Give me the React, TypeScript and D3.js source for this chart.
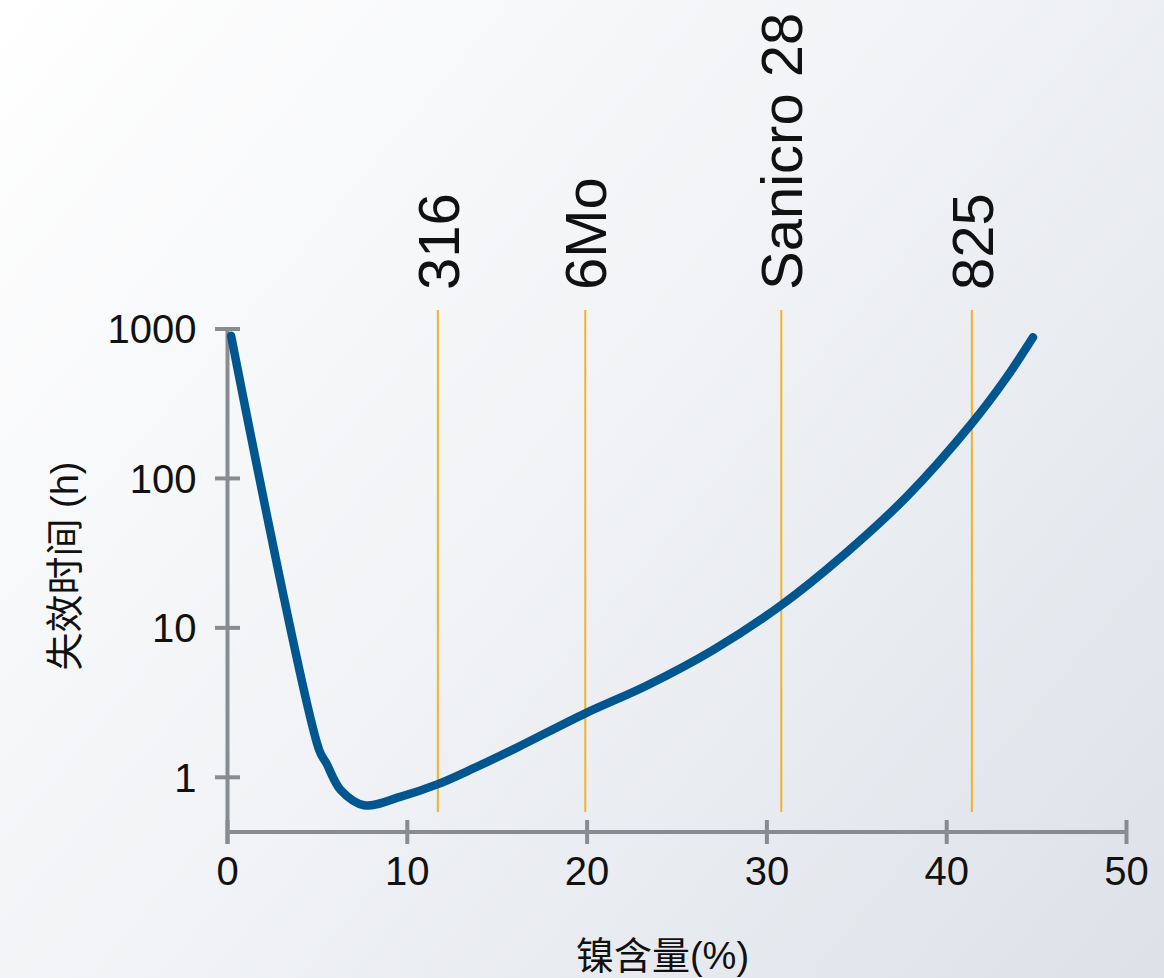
import React from "react";
import * as d3 from "d3";

const nickelPct = [0.2, 5.1, 5.5, 6.3, 7.6, 9.6, 11.7, 13.7, 16.1, 19.9, 23.3, 27.0, 30.8, 34.3, 37.8, 41.4, 43.3, 44.8];
const failureHours = [900, 1.52, 1.24, 0.82, 0.65, 0.74, 0.9, 1.15, 1.58, 2.68, 4.1, 7.1, 14.2, 31, 76, 234, 469, 881];

const alloyNames = ["316", "6Mo", "Sanicro 28", "825"];
const alloyNickel = [11.7, 19.9, 30.8, 41.4];

const xTicks = [0, 10, 20, 30, 40, 50];
const yTicks = [1, 10, 100, 1000];

const xTitle = "镍含量(%)";
const yTitle = "失效时间 (h)";

const W = 1164;
const H = 978;

export default function App() {
  const x = d3.scaleLinear().domain([0, 50]).range([227.5, 1126.5]);
  const y = d3.scaleLog().domain([1, 1000]).range([777.3, 329]);
  const axisY = 832;

  const pts = nickelPct.map((n, i) => [n, failureHours[i]] as [number, number]);
  const line = d3
    .line<[number, number]>()
    .x((d) => x(d[0]))
    .y((d) => y(d[1]))
    .curve(d3.curveCatmullRom.alpha(0.5));

  const axisColor = "#878c92";
  const font = "'Liberation Sans', Arial, 'Noto Sans CJK SC', sans-serif";
  const lineTop = y(1000) - 19;
  const lineBottom = axisY - 20;

  return (
    <svg
      width={W}
      height={H}
      style={{ position: "absolute", left: 0, top: 0, display: "block" }}
      fontFamily={font}
    >
      <defs>
        <linearGradient id="bg" x1="0" y1="0" x2={W} y2={H} gradientUnits="userSpaceOnUse">
          <stop offset="0" stopColor="#ffffff" />
          <stop offset="0.5" stopColor="#f0f2f5" />
          <stop offset="1" stopColor="#dde1e8" />
        </linearGradient>
      </defs>
      <rect x={0} y={0} width={W} height={H} fill="url(#bg)" />

      {/* alloy reference lines */}
      {alloyNickel.map((n, i) => (
        <g key={alloyNames[i]}>
          <line x1={x(n)} x2={x(n)} y1={lineTop} y2={lineBottom} stroke="#f1b22a" strokeWidth={2} />
          <text
            transform={`translate(${x(n)},${lineTop - 20}) rotate(-90)`}
            dy="0.36em"
            fontSize={58}
            fill="#111"
            textAnchor="start"
          >
            {alloyNames[i]}
          </text>
        </g>
      ))}

      {/* axes */}
      <line x1={x(0)} x2={x(0)} y1={y(1000)} y2={axisY + 12} stroke={axisColor} strokeWidth={4} />
      <line x1={x(0)} x2={x(50)} y1={axisY} y2={axisY} stroke={axisColor} strokeWidth={4} />
      {yTicks.map((t) => (
        <g key={"y" + t}>
          <line x1={x(0) - 12.5} x2={x(0) + 12.5} y1={y(t)} y2={y(t)} stroke={axisColor} strokeWidth={4} />
          <text x={x(0) - 31} y={y(t)} dy="0.36em" textAnchor="end" fontSize={40} fill="#111">
            {t}
          </text>
        </g>
      ))}
      {xTicks.map((t) => (
        <g key={"x" + t}>
          <line x1={x(t)} x2={x(t)} y1={axisY - 12} y2={axisY + 12} stroke={axisColor} strokeWidth={4} />
          <text x={x(t)} y={axisY + 53} textAnchor="middle" fontSize={40} fill="#111">
            {t}
          </text>
        </g>
      ))}

      {/* curve */}
      <path
        d={line(pts) || ""}
        fill="none"
        stroke="#00568f"
        strokeWidth={8.5}
        strokeLinecap="round"
        strokeLinejoin="round"
      />

      {/* titles */}
      <text x={662.5} y={969} textAnchor="middle" fontSize={38} fill="#111">
        {xTitle}
      </text>
      <text
        transform={`translate(64,566) rotate(-90)`}
        dy="0.36em"
        textAnchor="middle"
        fontSize={38}
        fill="#111"
      >
        {yTitle}
      </text>
    </svg>
  );
}
